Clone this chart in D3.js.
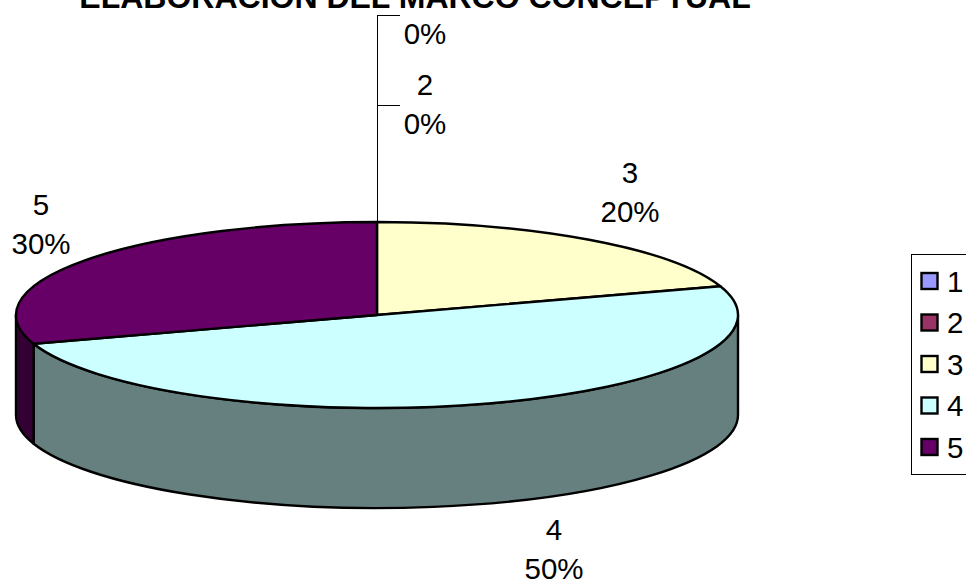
<!DOCTYPE html>
<html><head><meta charset="utf-8">
<script src="https://cdn.jsdelivr.net/npm/d3@7"></script>
<style>html,body{margin:0;padding:0;background:#fff;overflow:hidden}svg{display:block}text{font-family:"Liberation Sans",Arial,sans-serif;fill:#000}</style>
</head><body><script>
const titleText = "ELABORACIÓN DEL MARCO CONCEPTUAL";
const categories = ["1","2","3","4","5"];
const values = [0,0,20,50,30];
const colors = ["#9999FF","#993366","#FFFFCC","#CCFFFF","#660066"];
const sideColors = ["#4D4D80","#4D1A33","#808066","#668080","#330033"];
const labelAnchors = [[425,44,false],[425,95,true],[630,183,true],[554,540,true],[41,215,true]];

const W=966,H=584,cx=377,cy=315,rx=361,ry=93,depth=100,fs=29.5,lh=39,sw=2.4;
const svg=d3.select("body").append("svg").attr("width",W).attr("height",H);
svg.append("text").attr("x",415).attr("y",8).attr("text-anchor","middle")
  .attr("font-size",32).attr("font-weight","bold").text(titleText);

const pie=d3.pie().sort(null).value(d=>d.v);
const arcs=pie(categories.map((c,i)=>({c,v:values[i],i})));
const sx=d3.scaleLinear().domain([-1,1]).range([cx-rx,cx+rx]);
const sy=d3.scaleLinear().domain([-1,1]).range([cy-ry,cy+ry]);
const px=a=>sx(Math.sin(a)), py=a=>sy(-Math.cos(a));

// leader lines for the zero slices
const g=svg.append("g");
g.append("path").attr("fill","none").attr("stroke","#000").attr("stroke-width",1)
 .attr("shape-rendering","crispEdges")
 .attr("d",`M400,15.5H377.5V222M377.5,105.5H400`);

// visible side wall: the part of each slice on the front half of the ellipse
arcs.filter(d=>d.value>0).forEach(d=>{
  const a0=Math.max(d.startAngle,Math.PI/2), a1=Math.min(d.endAngle,Math.PI*1.5);
  if(a1<=a0) return;
  g.append("path")
   .attr("d",`M${px(a0)},${py(a0)}A${rx},${ry} 0 0 1 ${px(a1)},${py(a1)}L${px(a1)},${py(a1)+depth}A${rx},${ry} 0 0 0 ${px(a0)},${py(a0)+depth}Z`)
   .attr("fill",sideColors[d.data.i]).attr("stroke","#000").attr("stroke-width",sw).attr("stroke-linejoin","round");
});
// top faces
arcs.filter(d=>d.value>0).forEach(d=>{
  const large=(d.endAngle-d.startAngle)>Math.PI?1:0;
  g.append("path").attr("d",`M${cx},${cy}L${px(d.startAngle)},${py(d.startAngle)}A${rx},${ry} 0 ${large} 1 ${px(d.endAngle)},${py(d.endAngle)}Z`)
   .attr("fill",colors[d.data.i]).attr("stroke","#000").attr("stroke-width",sw).attr("stroke-linejoin","round");
});

// data labels
const total=d3.sum(values);
categories.forEach((c,i)=>{
  const [x,y,showName]=labelAnchors[i];
  const pct=d3.format(".0%")(values[i]/total);
  const t=svg.append("text").attr("text-anchor","middle").attr("font-size",fs);
  if(showName){
    t.append("tspan").attr("x",x).attr("y",y).text(c);
    t.append("tspan").attr("x",x).attr("y",y+lh).text(pct);
  } else {
    t.append("tspan").attr("x",x).attr("y",y).text(pct);
  }
});

// legend
const ly=d3.scalePoint().domain(categories).range([281,447]);
svg.append("rect").attr("x",911.5).attr("y",254.5).attr("width",70).attr("height",220)
  .attr("fill","#fff").attr("stroke","#000").attr("stroke-width",1);
categories.forEach((c,i)=>{
  svg.append("rect").attr("x",921.5).attr("y",ly(c)-8).attr("width",16).attr("height",16)
    .attr("fill",colors[i]).attr("stroke","#000").attr("stroke-width",2.4);
  svg.append("text").attr("x",947).attr("y",ly(c)+10.5).attr("font-size",29.5).text(c);
});
</script></body></html>
